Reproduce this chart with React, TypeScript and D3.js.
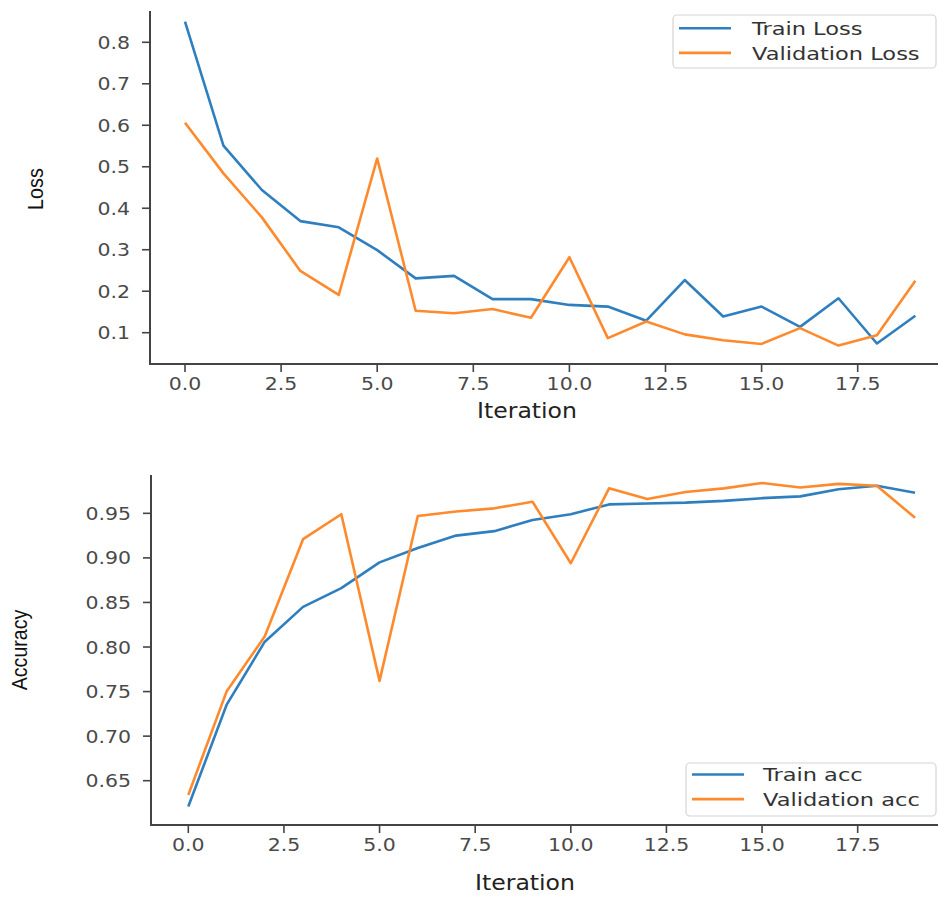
import React from 'react';
import * as d3 from 'd3';

const iterations = [0, 1, 2, 3, 4, 5, 6, 7, 8, 9, 10, 11, 12, 13, 14, 15, 16, 17, 18, 19];
const trainLoss = [0.85, 0.551, 0.444, 0.369, 0.354, 0.299, 0.231, 0.237, 0.181, 0.181, 0.167, 0.163, 0.129, 0.227, 0.139, 0.163, 0.114, 0.183, 0.074, 0.141];
const valLoss = [0.606, 0.484, 0.378, 0.249, 0.191, 0.52, 0.153, 0.147, 0.157, 0.136, 0.282, 0.087, 0.127, 0.096, 0.082, 0.073, 0.111, 0.069, 0.094, 0.225];
const trainAcc = [0.621, 0.735, 0.806, 0.845, 0.866, 0.895, 0.911, 0.925, 0.93, 0.9425, 0.949, 0.96, 0.961, 0.962, 0.964, 0.967, 0.969, 0.977, 0.981, 0.973];
const valAcc = [0.634, 0.75, 0.812, 0.921, 0.949, 0.762, 0.947, 0.952, 0.9556, 0.963, 0.894, 0.978, 0.966, 0.974, 0.978, 0.984, 0.979, 0.983, 0.981, 0.945];

const xTicks = [0, 2.5, 5, 7.5, 10, 12.5, 15, 17.5];
const lossTicks = [0.1, 0.2, 0.3, 0.4, 0.5, 0.6, 0.7, 0.8];
const accTicks = [0.65, 0.7, 0.75, 0.8, 0.85, 0.9, 0.95];
const lossLegend = ['Train Loss', 'Validation Loss'];
const accLegend = ['Train acc', 'Validation acc'];

const BLUE = '#2f7fbf';
const ORANGE = '#ff8a2e';
const AXIS = '#444';
const TICKTXT = '#4a4a4a';
const FONT = 'DejaVu Sans';

function T(props: any) {
  const { x, y, rotate = 0, sx = 1.17, anchor = 'start', size = 17.5, fill = TICKTXT, family = FONT, children } = props;
  return (
    <g transform={`translate(${x},${y}) rotate(${rotate}) scale(${sx},1)`}>
      <text textAnchor={anchor} fontSize={size} fill={fill} fontFamily={family}>
        {children}
      </text>
    </g>
  );
}

function Panel(props: any) {
  const { left, top, bottom, x0, unit, yDomain, yTicks, yFmt, series, legend, legendBox, xLabelY, xLabelX, tickLabelY } = props;
  const x = d3.scaleLinear().domain([0, 19]).range([x0, x0 + 19 * unit]);
  const y = d3.scaleLinear().domain(yDomain).range([bottom, top]);
  const line = d3.line<number>().x((_, i) => x(iterations[i])).y((d) => y(d));
  const fmt = d3.format(yFmt);
  return (
    <g>
      <line x1={left} x2={left} y1={top} y2={bottom} stroke={AXIS} strokeWidth={2} />
      <line x1={left - 1} x2={938} y1={bottom} y2={bottom} stroke={AXIS} strokeWidth={2} />
      {yTicks.map((t: number) => (
        <g key={'y' + t}>
          <line x1={left - 8} x2={left} y1={y(t)} y2={y(t)} stroke={AXIS} strokeWidth={1.6} />
          <T x={left - 20} y={y(t) + 6.5} anchor="end">{fmt(t)}</T>
        </g>
      ))}
      {xTicks.map((t) => (
        <g key={'x' + t}>
          <line x1={x(t)} x2={x(t)} y1={bottom} y2={bottom + 8} stroke={AXIS} strokeWidth={1.6} />
          <T x={x(t)} y={tickLabelY} anchor="middle">{d3.format('.1f')(t)}</T>
        </g>
      ))}
      {series.map((s: any, i: number) => (
        <path key={i} d={line(s.values) || ''} fill="none" stroke={s.color} strokeWidth={2.6} strokeLinejoin="round" />
      ))}
      <rect x={legendBox.x} y={legendBox.y} width={legendBox.w} height={legendBox.h} rx={4} fill="#fff" stroke="#d4d4d4" strokeWidth={1.2} />
      {legend.map((name: string, i: number) => (
        <g key={name}>
          <line x1={legendBox.x + legendBox.lx1} x2={legendBox.x + legendBox.lx2} y1={legendBox.y + legendBox.ly + i * 24.6} y2={legendBox.y + legendBox.ly + i * 24.6} stroke={series[i].color} strokeWidth={2.6} />
          <T x={legendBox.x + legendBox.tx} y={legendBox.y + legendBox.ly + 6.7 + i * 24.6} size={18.3} sx={1.23} fill="#333">{name}</T>
        </g>
      ))}
      <T x={xLabelX} y={xLabelY} anchor="middle" size={20.5} sx={1.15} fill="#222">Iteration</T>
    </g>
  );
}

export default function App() {
  return (
    <svg width={938} height={897} style={{ position: 'absolute', left: 0, top: 0, background: '#fff' }}>
      <rect x={0} y={0} width={938} height={897} fill="#fff" />
      <Panel
        left={150}
        top={11}
        bottom={364}
        x0={185}
        unit={38.44}
        yDomain={[0.0246, 0.8754]}
        yTicks={lossTicks}
        yFmt=".1f"
        series={[{ values: trainLoss, color: BLUE }, { values: valLoss, color: ORANGE }]}
        legend={lossLegend}
        legendBox={{ x: 673, y: 15, w: 263, h: 53, lx1: 6, lx2: 58, ly: 13.3, tx: 79 }}
        tickLabelY={390}
        xLabelX={527}
        xLabelY={418}
      />
      <Panel
        left={151}
        top={475}
        bottom={825}
        x0={188.3}
        unit={38.25}
        yDomain={[0.6003, 0.993]}
        yTicks={accTicks}
        yFmt=".2f"
        series={[{ values: trainAcc, color: BLUE }, { values: valAcc, color: ORANGE }]}
        legend={accLegend}
        legendBox={{ x: 686, y: 763, w: 250, h: 53, lx1: 6, lx2: 58, ly: 11.5, tx: 77 }}
        tickLabelY={851}
        xLabelX={525}
        xLabelY={890}
      />
      <T x={43} y={189} rotate={-90} anchor="middle" size={22} sx={0.9} fill="#111" family="Liberation Sans">Loss</T>
      <T x={27} y={650} rotate={-90} anchor="middle" size={22} sx={0.89} fill="#111" family="Liberation Sans">Accuracy</T>
    </svg>
  );
}
